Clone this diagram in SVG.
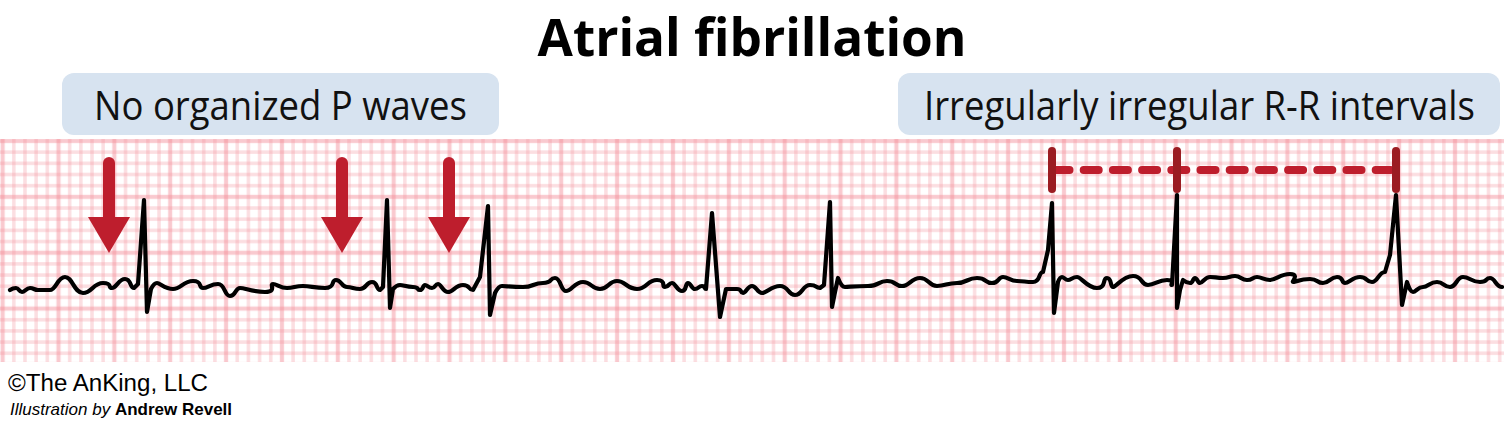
<svg xmlns="http://www.w3.org/2000/svg" width="1504" height="429" viewBox="0 0 1504 429">
<style>
.title{font-family:"Open Sans","Liberation Sans",sans-serif;font-weight:700;font-size:52px;fill:#000}
.lbl{font-family:"Open Sans","Liberation Sans",sans-serif;font-size:41px;fill:#111}
.box{fill:#d7e3f0}
.copy{font-family:"Liberation Sans",Arial,sans-serif;fill:#000}
.arrow-shaft{stroke:#be1e2d;stroke-width:12;stroke-linecap:round;fill:none}
.arrow-head{fill:#be1e2d}
.bar{stroke:#9b1c22;stroke-width:8;stroke-linecap:round}
.dash{stroke:#be1e2d;stroke-width:8;stroke-linecap:round;stroke-dasharray:15 14.2;stroke-dashoffset:-2.5;fill:none}
.trace{fill:none;stroke:#000;stroke-width:4.2;stroke-linejoin:round;stroke-linecap:round}
</style>
<defs>
<pattern id="minor" patternUnits="userSpaceOnUse" x="-2.95" y="135.41" width="11.172" height="11.172">
<rect x="3.836" y="0" width="3.5" height="11.172" fill="#f4939e" fill-opacity="0.3"/>
<rect x="0" y="3.836" width="11.172" height="3.5" fill="#f4939e" fill-opacity="0.3"/>
</pattern>
<pattern id="major" patternUnits="userSpaceOnUse" x="30.57" y="113.07" width="55.86" height="55.86">
<rect x="25.68" y="0" width="4.5" height="55.86" fill="#f28b96" fill-opacity="0.25"/>
<rect x="0" y="25.68" width="55.86" height="4.5" fill="#f28b96" fill-opacity="0.25"/>
</pattern>
<g id="arrowShape">
<line class="arrow-shaft" x1="0" y1="-90" x2="0" y2="-30"/>
<polygon class="arrow-head" points="-21,-36 21,-36 0,0"/>
</g>
</defs>
<rect width="1504" height="429" fill="#fff"/>
<g id="grid">
<rect x="0" y="139" width="1504" height="223" fill="url(#minor)"/>
<rect x="0" y="139" width="1504" height="223" fill="url(#major)"/>
</g>
<g id="title">
<text class="title" x="752" y="56" text-anchor="middle" textLength="429" lengthAdjust="spacingAndGlyphs">Atrial fibrillation</text>
</g>
<g id="label-p-waves">
<rect class="box" x="62" y="73" width="437" height="62" rx="12"/>
<text class="lbl" transform="translate(94,120) scale(0.89,1)">No organized P waves</text>
</g>
<g id="label-rr">
<rect class="box" x="898" y="73" width="602" height="62" rx="12"/>
<text class="lbl" transform="translate(924,120) scale(0.89,1)">Irregularly irregular R-R intervals</text>
</g>
<g id="ecg-trace">
<path class="trace" d="M10,290 S13,288 16,288 S19,292 22,292 S26,288 30,288 S34,290 38,290 S44,290 50,290 S57.5,277 65,277 S74,293 83,293 S93,283 103,283 S107.5,288 112,288 S118.5,279 125,279 S129.5,288 134,288 L138,284 L144,200 L147,312 L151,289 S154,283 157,283 S165,289 173,289 S183,281 193,281 S198,288 203,288 S210.5,284 218,284 S224,296 230,296 S235,288 240,288 S252.5,292 265,292 S269,284 273,284 S280,288 287,288 S295,286 303,286 S314,288 325,288 S330.5,280 336,280 S341.5,287 347,287 S353.5,289 360,289 S366,282 372,282 S376,290 380,290 L383,287 L387,200 L390,308 L393,289 S396.5,285 400,285 S406.5,287 413,287 S416.5,290 420,290 S422.5,285 425,285 S428.5,288 432,288 S435,284 438,284 S443,292 448,292 S455.5,285 463,285 S468,290 473,290 L480,277 L488,206 L490,315 L495,293 S498.5,286 502,286 S512.5,287 523,287 S533,283 543,283 S549,278 555,278 S560.5,291 566,291 S574.5,282 583,282 S591.5,289 600,289 S608.5,281 617,281 S627,289 637,289 S647,280 657,280 S661,287 665,287 S668.5,283 672,283 S677,291 682,291 S685,283 688,283 S691.5,289 695,289 S698.5,286 702,286 S704,289 706,289 L712,213 L720,317 L726,289 S731.5,289 737,289 S740,293 743,293 S747.5,286 752,286 S757,293 762,293 S771,286 780,286 S787.5,295 795,295 S802.5,285 810,285 S815,288 820,288 L824,285 L830,202 L832,307 L835,292 L838,278 S841.5,287 845,287 S856.5,286 868,286 S877.5,281 887,281 S894.5,286 902,286 S911,278 920,278 S928.5,286 937,286 S947,283 957,283 S967,278 977,278 S984.5,283 992,283 S997.5,277 1003,277 S1010,281 1017,281 S1025,282 1033,282 S1038,272 1043,272 L1048,250 L1052,203 L1054,313 L1058,282 S1060,277 1062,277 S1065,280 1068,280 S1072.5,277 1077,277 S1087,288 1097,288 S1102,278 1107,278 S1110,287 1113,287 S1123,276 1133,276 S1140.5,285 1148,285 S1157.5,280 1167,280 S1169.5,285 1172,285 L1177,195 L1177,308 L1180,290 L1183,280 S1186.5,283 1190,283 S1192.5,278 1195,278 S1197.5,283 1200,283 S1205,277 1210,277 S1216.5,278 1223,278 S1229,276 1235,276 S1241,280 1247,280 S1252,277 1257,277 S1263.5,280 1270,280 S1280,274 1290,274 S1291.5,282 1293,282 S1301.5,279 1310,279 S1316.5,283 1323,283 S1330,277 1337,277 S1341,283 1345,283 S1352.5,277 1360,277 S1366,282 1372,282 S1378.5,272 1385,272 L1390,255 L1396,195 L1402,305 L1407,282 S1410,292 1413,292 S1418,287 1423,287 S1430,282 1437,282 S1443.5,287 1450,287 S1456.5,277 1463,277 S1471.5,282 1480,282 S1485,278 1490,278 S1496,287 1502,287"/>
</g>
<g id="connectors">
<use href="#arrowShape" transform="translate(109,253)"/>
<use href="#arrowShape" transform="translate(342,253)"/>
<use href="#arrowShape" transform="translate(449,253)"/>
<g id="rr-bracket">
<line class="dash" x1="1052" y1="170" x2="1396" y2="170"/>
<line class="bar" x1="1052" y1="151" x2="1052" y2="189"/>
<line class="bar" x1="1177" y1="151" x2="1177" y2="189"/>
<line class="bar" x1="1396" y1="151" x2="1396" y2="189"/>
</g>
</g>
<g id="credits">
<text class="copy" x="8" y="391" font-size="23.5" textLength="200" lengthAdjust="spacingAndGlyphs">©The AnKing, LLC</text>
<text class="copy" x="10" y="415" font-size="17"><tspan font-style="italic">Illustration by </tspan><tspan font-weight="700">Andrew Revell</tspan></text>
</g>
</svg>
